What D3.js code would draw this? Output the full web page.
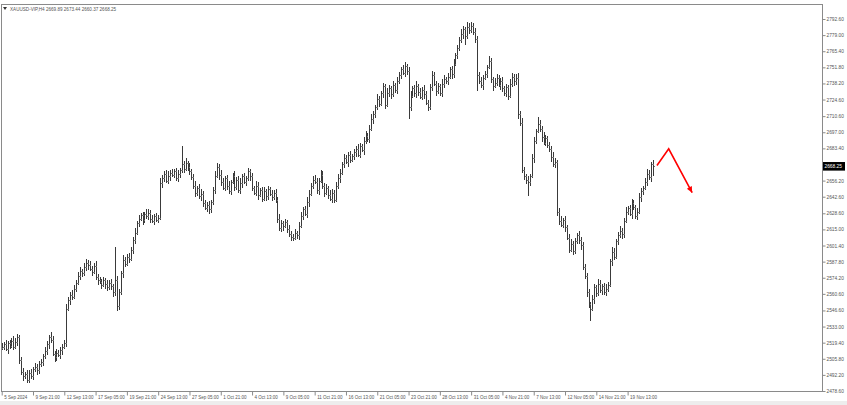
<!DOCTYPE html>
<html><head><meta charset="utf-8">
<script src="https://cdn.jsdelivr.net/npm/d3@7/dist/d3.min.js"></script>
<style>
html,body{margin:0;padding:0;background:#fff;}
svg{display:block;}
text{font-family:"Liberation Sans",Arial,sans-serif;}
</style></head>
<body>
<svg id="c" width="847" height="405"></svg>
<script>
// ---- DATA (XAUUSD-VIP, H4) ----
const symbolTitle = "XAUUSD-VIP,H4";
const lastOHLC = [2669.89, 2673.44, 2660.37, 2668.25];
const firstOpen = 2515;
// close of every H4 bar (open of a bar = previous close)
const closes = [
2516,2518,2514,2519,2517,2521,2516,2520,2524,2505,
2495,2491,2493,2488,2494,2491,2497,2499,2496,2501,
2503,2508,2512,2518,2524,2522,2510,2507,2511,2509,
2513,2516,2519,2548,2555,2560,2558,2565,2570,2576,
2580,2578,2583,2587,2585,2582,2579,2584,2575,2572,
2571,2568,2572,2569,2566,2570,2567,2562,2572,2550,
2562,2578,2589,2586,2592,2590,2598,2606,2612,2620,
2624,2627,2623,2628,2626,2629,2624,2622,2626,2623,
2625,2654,2658,2662,2656,2660,2663,2661,2664,2658,
2662,2665,2670,2666,2671,2668,2664,2659,2652,2646,
2650,2643,2645,2637,2633,2636,2632,2638,2648,2660,
2668,2661,2655,2650,2658,2652,2647,2655,2660,2651,
2657,2648,2654,2660,2655,2658,2664,2660,2650,2646,
2652,2644,2648,2641,2647,2643,2649,2645,2642,2646,
2640,2624,2616,2620,2618,2621,2615,2611,2609,2608,
2612,2610,2618,2626,2632,2628,2638,2645,2652,2657,
2655,2648,2656,2661,2652,2646,2650,2644,2641,2646,
2640,2652,2658,2663,2670,2675,2672,2678,2674,2677,
2680,2683,2678,2685,2682,2690,2694,2691,2700,2708,
2712,2718,2725,2721,2730,2736,2720,2730,2734,2729,
2737,2733,2740,2745,2750,2747,2753,2749,2718,2728,
2734,2730,2736,2731,2727,2733,2729,2722,2718,2735,
2745,2738,2732,2736,2730,2738,2742,2740,2744,2750,
2746,2755,2762,2768,2775,2780,2784,2778,2786,2783,
2787,2782,2776,2745,2740,2737,2743,2746,2752,2757,
2742,2736,2739,2743,2737,2740,2734,2730,2735,2728,
2738,2744,2740,2743,2712,2705,2665,2660,2657,2655,
2660,2675,2690,2698,2704,2700,2693,2688,2692,2686,
2683,2676,2670,2672,2630,2622,2619,2623,2617,2608,
2598,2603,2597,2605,2610,2606,2602,2583,2576,2562,
2552,2548,2556,2566,2561,2569,2564,2567,2562,2565,
2568,2588,2596,2592,2605,2610,2614,2611,2622,2630,
2633,2628,2637,2634,2626,2630,2642,2647,2650,2655,
2662,2659,2669.89,2668.25
];
// wick above the body / below the body, in dollars
const upperWick = [
3,2,4,2,3,2,4,3,3,2, 2,3,2,3,2,3,2,3,2,3, 3,2,4,3,2,4,3,2,3,2, 3,2,3,4,3,2,4,3,2,3,
3,2,4,3,2,3,2,3,4,2, 3,2,3,2,3,2,3,2,28,4, 3,2,4,3,2,3,2,3,4,2, 3,2,3,2,4,3,2,3,2,3,
2,4,3,2,3,4,2,3,2,3, 3,2,15,3,4,2,3,2,3,4, 2,3,4,2,3,2,3,2,3,4, 3,2,4,3,2,3,4,2,3,4,
2,3,4,2,3,2,3,2,3,2, 4,3,2,3,4,2,3,2,3,2, 3,2,4,3,2,3,2,4,3,2, 3,2,3,4,2,3,4,3,2,3,
4,3,2,4,3,2,3,2,4,3, 2,3,4,3,2,4,3,2,3,2, 3,2,4,3,2,3,4,2,3,4, 3,2,4,3,2,3,2,4,3,2,
3,2,4,3,2,4,3,2,3,4, 2,3,4,2,3,2,4,3,2,3, 4,3,2,3,2,4,3,2,3,2, 3,4,2,3,2,4,3,2,4,3,
3,2,3,2,3,4,2,3,2,4, 3,2,4,3,2,3,4,2,3,2, 4,3,2,3,4,3,4,3,2,3, 2,4,3,2,6,3,2,4,3,2,
3,2,4,3,2,3,4,2,3,2, 3,4,2,3,2,4,3,2,3,2, 3,2,4,3,2,4,3,2,3,4, 3,2,4,3,2,3,4,2,3,4,
2,3,4,3,2,3,4,3,2,3, 4,3,2,3.55
];
const lowerWick = [
2,3,2,4,3,2,3,2,3,4, 3,4,2,3,3,2,3,2,4,3, 2,3,2,3,4,3,2,4,3,2, 3,4,2,3,2,4,3,2,3,2,
4,3,2,3,4,2,3,2,3,4, 2,3,2,4,3,2,3,4,3,4, 3,2,4,3,2,3,2,4,3,2, 3,2,4,3,2,3,4,2,3,2,
3,2,4,3,2,3,4,2,3,2, 3,4,2,3,2,4,3,2,3,4, 3,2,4,3,2,3,4,3,2,3, 2,4,3,2,3,4,2,3,2,4,
3,2,3,4,2,3,2,4,3,2, 3,4,2,3,2,4,3,2,3,2, 3,4,2,3,4,2,3,2,4,3, 2,3,4,2,3,2,3,4,2,3,
2,3,4,2,3,4,2,3,2,4, 3,2,3,4,2,3,2,4,3,2, 3,4,2,3,2,4,3,2,3,2, 4,3,2,3,2,4,3,2,3,4,
2,3,4,2,3,2,3,4,10,3, 2,3,4,3,2,3,4,2,3,2, 3,2,4,3,2,3,4,2,3,2, 4,3,2,3,2,3,4,7,2,3,
2,3,4,13,2,3,4,2,3,2, 3,4,2,3,2,4,3,2,3,4, 2,3,4,3,4,3,2,3,4,12, 3,2,4,3,2,3,4,2,3,2,
3,4,2,3,4,3,2,3,4,2, 3,2,4,3,2,3,4,2,3,4, 3,10,2,4,3,2,3,4,2,3, 3,2,4,3,2,3,2,4,3,2,
3,2,4,3,2,3,2,4,3,2, 3,2,4,7.88
];
const timeLabels = ["5 Sep 2024","9 Sep 21:00","12 Sep 13:00","17 Sep 05:00","19 Sep 21:00",
"24 Sep 13:00","27 Sep 05:00","1 Oct 21:00","4 Oct 13:00","9 Oct 05:00","11 Oct 21:00",
"16 Oct 13:00","21 Oct 05:00","23 Oct 21:00","28 Oct 13:00","31 Oct 05:00","4 Nov 21:00",
"7 Nov 13:00","12 Nov 05:00","14 Nov 21:00","19 Nov 13:00"];
const barsPerTimeLabel = 16;
const priceTicks = [2792.60,2779.00,2765.40,2751.80,2738.20,2724.60,2710.60,2697.00,2683.40,
2656.20,2642.60,2628.60,2615.00,2601.40,2587.80,2574.20,2560.60,2546.60,2533.00,2519.40,
2505.80,2492.20,2478.60];
// forecast arrow (bar index, price)
const arrowIdx = [335, 341, 353];
const arrowPrice = [2669, 2683, 2646];

// ---- BUILD ----
const bars = closes.map((c,i)=>{
  const o = i===0 ? firstOpen : closes[i-1];
  return {i, o, c, h: Math.max(o,c)+upperWick[i], l: Math.min(o,c)-lowerWick[i]};
});
const N = bars.length;

const W=847,H=405;
const L=1, R=822, T=4, B=391;
const svg=d3.select("#c");
const FONT="Liberation Sans";

const x=d3.scaleLinear().domain([0,N-1]).range([1.7, 1.7+(N-1)*1.956]);
const y=d3.scaleLinear().domain([2478.6,2792.6]).range([B,19]);

// bottom grey strip
svg.append("rect").attr("x",0).attr("y",401).attr("width",W).attr("height",4).attr("fill","#ededed");

// frame
svg.append("rect").attr("x",L+0.5).attr("y",T+0.5).attr("width",R-L).attr("height",B-T)
  .attr("fill","none").attr("stroke","#8a8a8a").attr("stroke-width",1);

// bars
const g=svg.append("g").attr("stroke","#3a3a3a").attr("stroke-width",1).attr("shape-rendering","crispEdges");
const px=d=>Math.round(x(d.i))+0.5;
g.selectAll("line.hl").data(bars).join("line").attr("class","hl")
  .attr("x1",px).attr("x2",px).attr("y1",d=>y(d.h)).attr("y2",d=>y(d.l));
g.selectAll("line.o").data(bars).join("line").attr("class","o").attr("stroke","#777")
  .attr("x1",d=>px(d)-1).attr("x2",d=>px(d)).attr("y1",d=>Math.round(y(d.o))+0.5).attr("y2",d=>Math.round(y(d.o))+0.5);
g.selectAll("line.cl").data(bars).join("line").attr("class","cl").attr("stroke","#777")
  .attr("x1",d=>px(d)).attr("x2",d=>px(d)+1).attr("y1",d=>Math.round(y(d.c))+0.5).attr("y2",d=>Math.round(y(d.c))+0.5);

// price axis
const ya=svg.append("g").attr("transform",`translate(${R+0.5},0)`)
  .call(d3.axisRight(y).tickValues(priceTicks).tickSize(3).tickFormat(d3.format(".2f")));
ya.select(".domain").remove();
ya.selectAll(".tick line").attr("stroke","#8a8a8a");
ya.selectAll(".tick text").attr("x",4).attr("font-size","4.8px").attr("fill","#555").attr("font-family",FONT);

// time axis
const tIdx=timeLabels.map((t,k)=>k*barsPerTimeLabel);
const xa=svg.append("g").attr("transform",`translate(0,${B+0.5})`)
  .call(d3.axisBottom(x).tickValues(tIdx).tickSize(4).tickFormat((d,k)=>timeLabels[k]));
xa.select(".domain").remove();
xa.selectAll(".tick line").attr("stroke","#8a8a8a");
xa.selectAll(".tick text").attr("text-anchor","start").attr("x",2).attr("y",4.2)
  .attr("font-size","4.5px").attr("fill","#555").attr("font-family",FONT);

// current price label
const cp=lastOHLC[3], cy=y(cp);
svg.append("rect").attr("x",R+1).attr("y",cy-4.3).attr("width",22).attr("height",8.6).attr("fill","#000");
svg.append("text").attr("x",R+2.5).attr("y",cy+1.8).attr("font-size","4.8px").attr("fill","#fff").text(cp.toFixed(2));

// title
svg.append("path").attr("d","M3,7 L7,7 L5,10 Z").attr("fill","#333");
svg.append("text").attr("x",10).attr("y",10.5).attr("font-size","4.6px").attr("fill","#555")
  .text(symbolTitle+"  "+lastOHLC.map(v=>v.toFixed(2)).join(" "));

// arrow
const pts=arrowIdx.map((a,k)=>[x(a),y(arrowPrice[k])]);
svg.append("path").attr("d",d3.line()(pts)).attr("fill","none").attr("stroke","#ff0000").attr("stroke-width",1.6);
const [p1,p2]=[pts[1],pts[2]];
const ang=Math.atan2(p2[1]-p1[1],p2[0]-p1[0]);
const hl=6, hw=2.8;
const tip=p2, bx=tip[0]-hl*Math.cos(ang), by=tip[1]-hl*Math.sin(ang);
svg.append("path").attr("d",`M${tip[0]},${tip[1]} L${bx+hw*Math.sin(ang)},${by-hw*Math.cos(ang)} L${bx-hw*Math.sin(ang)},${by+hw*Math.cos(ang)} Z`)
  .attr("fill","#ff0000");
</script>
</body></html>
